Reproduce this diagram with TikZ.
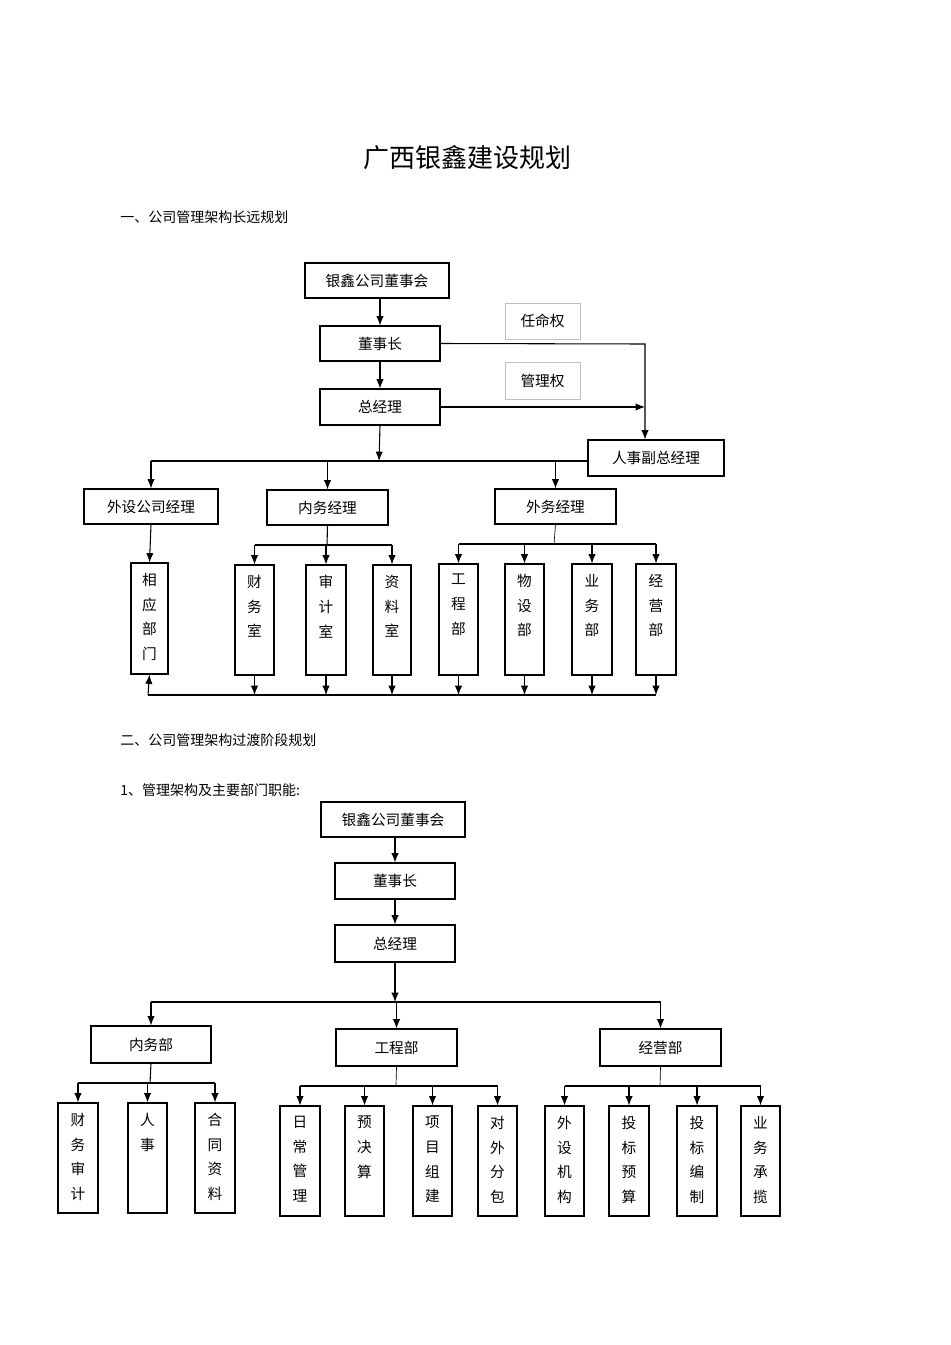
\documentclass[tikz,border=0pt]{standalone}
\usepackage{fontspec}
\setmainfont{Noto Sans CJK SC}
\usetikzlibrary{arrows.meta}
\tikzset{
  box/.style={draw,line width=0.8pt,inner sep=0pt,font=\fontsize{11}{13}\selectfont},
  gbox/.style={draw=black!25,line width=0.6pt,inner sep=0pt,font=\fontsize{11}{13}\selectfont},
  vtxt/.style={anchor=north,inner sep=0pt,align=center,font=\fontsize{11}{18.5}\selectfont},
  ln/.style={line width=0.8pt},
  arr/.style={line width=0.8pt,-{Latex[length=7pt,width=5.5pt]}},
  hd/.style={anchor=west,inner sep=0pt,font=\fontsize{10.5}{12}\selectfont}
}
\newcommand\bx[7][box]{\node[#1,minimum width={(#5-#3)*0.75pt},minimum height={(#6-#4)*0.75pt}] (#2) at ({(#3+#5)/2},{(#4+#6)/2}) {#7};}
\newcommand\vb[6]{\node[box,minimum width={(#4-#2)*0.75pt},minimum height={(#5-#3)*0.75pt}] (#1) at ({(#2+#4)/2},{(#3+#5)/2}) {};
\node[vtxt] (#1t) at ({(#2+#4)/2},{#3+10}) {#6};}
\begin{document}
\begin{tikzpicture}[x=0.75pt,y=-0.75pt]
\useasboundingbox (0,0) rectangle (950,1345);
\node[font=\fontsize{19.5}{22}\selectfont] (title) at (467,158) {广西银鑫建设规划};
\node[hd] (h1) at (120,217) {一、公司管理架构长远规划};
\node[hd] (h2) at (120,740) {二、公司管理架构过渡阶段规划};
\node[hd] (h3) at (120,790) {1、管理架构及主要部门职能:};
% ---- top chart
\bx{dsh}{305}{263}{449}{298}{银鑫公司董事会}
\bx{dsz}{320}{326}{440}{361}{董事长}
\bx{zjl}{320}{389}{440}{425}{总经理}
\bx[gbox]{rmq}{505}{303}{580}{339}{任命权}
\bx[gbox]{glq}{505}{362}{580}{399}{管理权}
\bx{rs}{588}{440}{724}{476}{人事副总经理}
\bx{wsg}{84}{489}{218}{524}{外设公司经理}
\bx{nwj}{267}{490}{388}{525}{内务经理}
\bx{wwj}{495}{489}{616}{524}{外务经理}
\vb{xy}{131}{563}{168}{674}{相\\应\\部\\门}
\vb{cws}{235}{565}{274}{675}{财\\务\\室}
\vb{sjs}{306}{565}{346}{675}{审\\计\\室}
\vb{zls}{373}{565}{411}{675}{资\\料\\室}
\vb{gcb}{439}{564}{478}{675}{工\\程\\部}
\vb{wsb}{505}{564}{544}{675}{物\\设\\部}
\vb{ywb}{572}{564}{612}{675}{业\\务\\部}
\vb{jyb}{636}{564}{676}{675}{经\\营\\部}
\draw[arr] (dsh.south -| dsz.north) -- (dsz.north);
\draw[arr] (dsz) -- (zjl);
\coordinate (rc) at (645,344);
\draw[arr] (dsz.east) -- (rc) -- (rc |- rs.north);
\draw[arr] (zjl.east) -- (zjl.east -| rc);
\coordinate (j1) at (379,461);
\draw[arr] (zjl.south) -- (j1);
\draw[ln] (wsg.north |- j1) -- (rs.west |- j1);
\foreach \n in {wsg,nwj,wwj} \draw[arr] (\n.north |- j1) -- (\n.north);
\draw[arr] (wsg.south) -- (xy.north);
\coordinate (j2) at (327,545);
\draw[ln] (nwj.south) -- (j2);
\draw[ln] (cws.north |- j2) -- (zls.north |- j2);
\foreach \n in {cws,sjs,zls} \draw[arr] (\n.north |- j2) -- (\n.north);
\coordinate (j3) at (554,544);
\draw[line width=0.5pt] (wwj.south) -- (j3);
\draw[ln] (gcb.north |- j3) -- (jyb.north |- j3);
\foreach \n in {gcb,wsb,ywb,jyb} \draw[arr] (\n.north |- j3) -- (\n.north);
\coordinate (j4) at (148,695);
\draw[ln] (j4) -- (jyb.south |- j4);
\foreach \n in {cws,sjs,zls,gcb,wsb,ywb,jyb} \draw[arr] (\n.south) -- (\n.south |- j4);
\draw[arr] (j4) -- (xy.south);
% ---- bottom chart
\bx{dsh2}{321}{802}{465}{837}{银鑫公司董事会}
\bx{dsz2}{335}{863}{455}{899}{董事长}
\bx{zjl2}{335}{925}{455}{962}{总经理}
\bx{nwb}{91}{1026}{211}{1063}{内务部}
\bx{gcb2}{336}{1029}{457}{1066}{工程部}
\bx{jyb2}{600}{1029}{721}{1066}{经营部}
\vb{cwsj}{58}{1103}{98}{1213}{财\\务\\审\\计}
\vb{rsb}{128}{1103}{167}{1213}{人\\事}
\vb{htzl}{195}{1103}{235}{1213}{合\\同\\资\\料}
\vb{rcgl}{280}{1106}{320}{1216}{日\\常\\管\\理}
\vb{yjs}{345}{1106}{384}{1216}{预\\决\\算}
\vb{xmzj}{413}{1106}{452}{1216}{项\\目\\组\\建}
\vb{dwfb}{478}{1106}{517}{1216}{对\\外\\分\\包}
\vb{wsjg}{545}{1106}{584}{1216}{外\\设\\机\\构}
\vb{tbys}{609}{1106}{649}{1216}{投\\标\\预\\算}
\vb{tbbz}{677}{1106}{717}{1216}{投\\标\\编\\制}
\vb{ywcl}{741}{1106}{780}{1216}{业\\务\\承\\揽}
\draw[arr] (dsh2.south -| dsz2.north) -- (dsz2.north);
\draw[arr] (dsz2) -- (zjl2);
\coordinate (k1) at (395,1002);
\draw[arr] (zjl2.south) -- (k1);
\draw[ln] (nwb.north |- k1) -- (jyb2.north |- k1);
\foreach \n in {nwb,gcb2,jyb2} \draw[arr] (\n.north |- k1) -- (\n.north);
\coordinate (k2) at (150,1083);
\draw[ln] (nwb.south) -- (k2);
\draw[ln] (cwsj.north |- k2) -- (htzl.north |- k2);
\foreach \n in {cwsj,rsb,htzl} \draw[arr] (\n.north |- k2) -- (\n.north);
\coordinate (k3) at (396,1086);
\draw[line width=0.5pt] (gcb2.south) -- (k3);
\draw[ln] (rcgl.north |- k3) -- (dwfb.north |- k3);
\foreach \n in {rcgl,yjs,xmzj,dwfb} \draw[arr] (\n.north |- k3) -- (\n.north);
\coordinate (k4) at (660,1086);
\draw[line width=0.5pt] (jyb2.south) -- (k4);
\draw[ln] (wsjg.north |- k4) -- (ywcl.north |- k4);
\foreach \n in {wsjg,tbys,tbbz,ywcl} \draw[arr] (\n.north |- k4) -- (\n.north);
\end{tikzpicture}
\end{document}
